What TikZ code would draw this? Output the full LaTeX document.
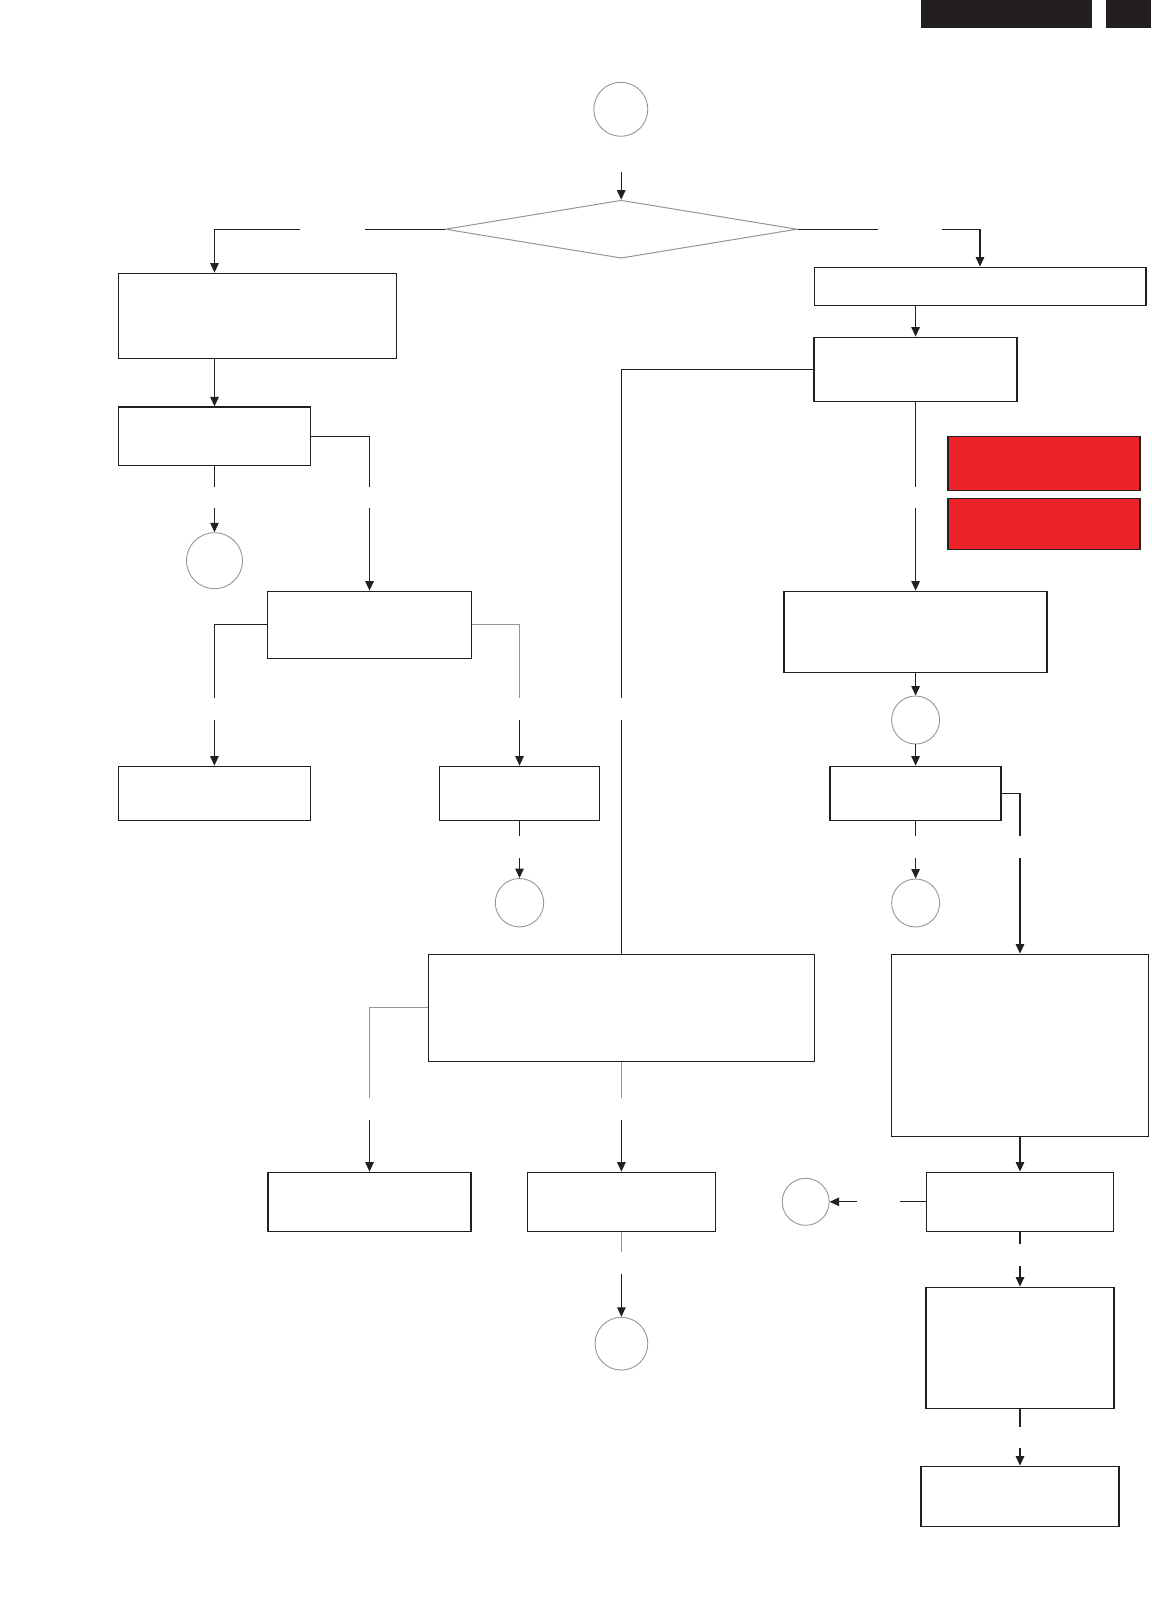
\documentclass[tikz,border=0pt]{standalone}
\usetikzlibrary{arrows.meta,shapes.geometric,calc}
\definecolor{ink}{RGB}{35,31,32}
\definecolor{lgray}{RGB}{150,150,150}
\definecolor{redfill}{RGB}{237,34,41}
\tikzset{
  box/.style={rectangle, draw=ink, line width=1.4pt, inner sep=0pt},
  redbox/.style={box, fill=redfill},
  term/.style={circle, draw=lgray, line width=0.9pt, inner sep=0pt},
  conn/.style={draw=ink, line width=1.2pt},
  gconn/.style={draw=lgray, line width=1pt},
  arr/.style={conn, -{Triangle[length=9.5pt,width=8.5pt]}},
  bar/.style={rectangle, fill=ink, inner sep=0pt}
}
\begin{document}
\begin{tikzpicture}[x=1pt,y=-1pt]
\useasboundingbox (0,0) rectangle (1151,1611);
% header bars
\node[bar, minimum width=171.1pt, minimum height=27.7pt] (bar1) at (1006.75,13.85) {};
\node[bar, minimum width=44.8pt, minimum height=27.7pt] (bar2) at (1128.6,13.85) {};
% top terminal and decision
\node[term, minimum size=54pt] (c0) at (620.8,109.3) {};
\node[diamond, draw=lgray, line width=1pt, inner sep=0pt, minimum width=352pt, minimum height=58pt] (d) at (621.2,229.2) {};
% left branch
\node[box, minimum width=278.4pt, minimum height=85pt] (a1) at (257.5,315.8) {};
\node[box, minimum width=192.4pt, minimum height=58.3pt] (a2) at (214.5,436.2) {};
\node[term, minimum size=56pt] (c1) at (214.5,560.7) {};
\node[box, minimum width=204.4pt, minimum height=67pt] (a3) at (369.5,624.8) {};
\node[box, minimum width=192.3pt, minimum height=54pt] (a4) at (214.4,793.3) {};
\node[box, minimum width=160.3pt, minimum height=54pt] (a5) at (519.5,793.3) {};
\node[term, minimum size=48.4pt] (c2) at (519.5,902.7) {};
% right branch
\node[box, minimum width=331.6pt, minimum height=38pt] (r1) at (980,286.3) {};
\node[box, minimum width=202.9pt, minimum height=64pt] (r2) at (915.6,369.3) {};
\node[redbox, minimum width=192pt, minimum height=53.8pt] (rb1) at (1044,463.4) {};
\node[redbox, minimum width=192pt, minimum height=51pt] (rb2) at (1044,523.8) {};
\node[box, minimum width=262.9pt, minimum height=81pt] (r3) at (915.6,631.8) {};
\node[term, minimum size=48pt] (c3) at (915.6,720) {};
\node[box, minimum width=170.9pt, minimum height=54pt] (r4) at (915.6,793.3) {};
\node[term, minimum size=48pt] (c4) at (915.6,903) {};
\node[box, minimum width=256.7pt, minimum height=182pt] (r5) at (1020,1045.3) {};
\node[box, minimum width=187.2pt, minimum height=59pt] (b3) at (1020,1201.8) {};
\node[term, minimum size=47pt] (c5) at (805.7,1201.8) {};
\node[box, minimum width=188.1pt, minimum height=121.4pt] (b4) at (1020,1348) {};
\node[box, minimum width=198.2pt, minimum height=60pt] (b5) at (1020,1496.3) {};
% middle
\node[box, minimum width=385.8pt, minimum height=107pt] (m) at (621.4,1007.8) {};
\node[box, minimum width=203.2pt, minimum height=59pt] (b1) at (369.5,1201.8) {};
\node[box, minimum width=187.8pt, minimum height=59pt] (b2) at (621.4,1201.8) {};
\node[term, minimum size=52.8pt] (c6) at (621.4,1343.7) {};
% gap coordinates
\coordinate (s0) at (621.2,171.7);
\coordinate (dl1) at (364.8,229.2);
\coordinate (dl2) at (299.5,229.2);
\coordinate (dr1) at (877.9,229.2);
\coordinate (dr2) at (941.8,229.2);
\coordinate (g1) at (214.5,486.7);
\coordinate (g2) at (214.5,508);
\coordinate (g3) at (369.5,486.7);
\coordinate (g4) at (369.5,508);
\coordinate (g5) at (214.4,698.3);
\coordinate (g6) at (214.4,720);
\coordinate (g7) at (519.5,698.3);
\coordinate (g8) at (519.5,720);
\coordinate (g9) at (519.5,835.7);
\coordinate (g10) at (519.5,858);
\coordinate (g11) at (621.4,698.3);
\coordinate (g12) at (621.4,720);
\coordinate (g13) at (915.6,486.7);
\coordinate (g14) at (915.6,508);
\coordinate (g15) at (1020,835.7);
\coordinate (g16) at (1020,858);
\coordinate (g17) at (915.6,835.7);
\coordinate (g18) at (915.6,858);
\coordinate (g19) at (899.8,1201.8);
\coordinate (g20) at (857.3,1201.8);
\coordinate (g21) at (369.5,1098.3);
\coordinate (g22) at (369.5,1120);
\coordinate (g23) at (621.4,1098.3);
\coordinate (g24) at (621.4,1120);
\coordinate (g25) at (621.4,1252.3);
\coordinate (g26) at (621.4,1274);
\coordinate (g27) at (1020,1244.3);
\coordinate (g28) at (1020,1266);
\coordinate (g29) at (1020,1426.7);
\coordinate (g30) at (1020,1448);
% connectors
\draw[arr] (s0) -- (d.north);
\draw[conn] (d.west) -- (dl1);
\draw[arr] (dl2) -| (a1.north -| a2.north);
\draw[arr] (a1.south -| a2.north) -- (a2.north);
\draw[conn] (a2.south) -- (g1);
\draw[arr] (g2) -- (c1.north);
\draw[conn] (a2.east) -| (g3);
\draw[arr] (g4) -- (a3.north);
\draw[conn] (a3.west) -| (g5);
\draw[arr] (g6) -- (a4.north);
\draw[gconn] (a3.east) -| (g7);
\draw[arr] (g8) -- (a5.north);
\draw[conn] (a5.south) -- (g9);
\draw[arr] (g10) -- (c2.north);
\draw[conn] (d.east) -- (dr1);
\draw[arr] (dr2) -| (r1.north);
\draw[arr] (r1.south -| r2.north) -- (r2.north);
\draw[conn] (r2.west) -| (g11);
\draw[conn] (g12) -- (m.north);
\draw[conn] (r2.south) -- (g13);
\draw[arr] (g14) -- (r3.north);
\draw[arr] (r3.south) -- (c3.north);
\draw[arr] (c3.south) -- (r4.north);
\draw[conn] (r4.east) -| (g15);
\draw[arr] (g16) -- (r5.north);
\draw[conn] (r4.south) -- (g17);
\draw[arr] (g18) -- (c4.north);
\draw[arr] (r5.south) -- (b3.north);
\draw[conn] (b3.west) -- (g19);
\draw[arr] (g20) -- (c5.east);
\draw[gconn] (m.west) -| (g21);
\draw[arr] (g22) -- (b1.north);
\draw[gconn] (m.south) -- (g23);
\draw[arr] (g24) -- (b2.north);
\draw[gconn] (b2.south) -- (g25);
\draw[arr] (g26) -- (c6.north);
\draw[conn] (b3.south) -- (g27);
\draw[arr] (g28) -- (b4.north);
\draw[conn] (b4.south) -- (g29);
\draw[arr] (g30) -- (b5.north);
\end{tikzpicture}
\end{document}
